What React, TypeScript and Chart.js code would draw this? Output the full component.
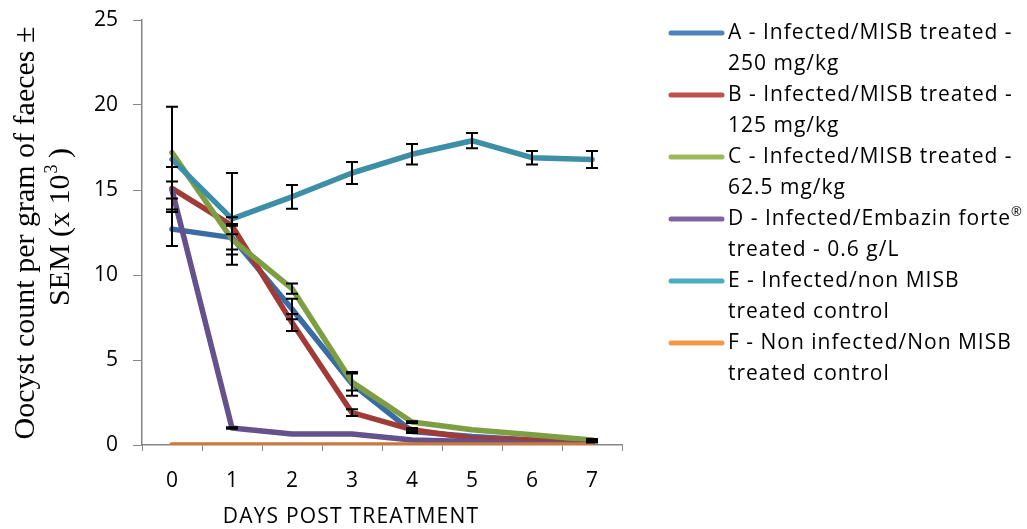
import React, { useEffect, useRef } from "react";
import { Chart, registerables } from "chart.js";

Chart.register(...registerables);

const days = ["0", "1", "2", "3", "4", "5", "6", "7"];

const seriesA = [12.7, 12.2, 8.0, 3.6, 0.8, 0.5, 0.3, 0.2];
const seriesB = [15.1, 12.9, 7.2, 1.9, 0.9, 0.4, 0.3, 0.2];
const seriesC = [17.2, 12.1, 9.2, 3.7, 1.35, 0.9, 0.6, 0.3];
const seriesD = [15.0, 1.0, 0.65, 0.65, 0.3, 0.2, 0.1, 0.05];
const seriesE = [16.8, 13.3, 14.6, 16.0, 17.1, 17.9, 16.9, 16.8];
const seriesF = [0, 0, 0, 0, 0, 0, 0, 0];

const errA = [1.0, 0.7, 0.6, 0.7, 0.1, 0, 0, 0];
const errB = [1.25, 0.5, 0.5, 0.2, 0.1, 0, 0, 0.05];
const errC = [0, 0.9, 0.3, 0.5, 0.05, 0, 0, 0.05];
const errD = [0.5, 0.05, 0, 0, 0, 0, 0, 0];
const errE = [3.1, 2.7, 0.7, 0.65, 0.6, 0.45, 0.4, 0.5];

const legendLabels = [
  ["A - Infected/MISB treated -", "250 mg/kg"],
  ["B - Infected/MISB treated -", "125 mg/kg"],
  ["C - Infected/MISB treated -", "62.5 mg/kg"],
  ["D - Infected/Embazin forte\u00AE", "treated - 0.6 g/L"],
  ["E - Infected/non MISB", "treated control"],
  ["F - Non infected/Non MISB", "treated control"],
];

const yTitle = ["Oocyst count per gram of faeces \u00B1", "SEM (x 10", "3", " )"];
const xTitle = "DAYS POST TREATMENT";

const lineColors = ["#3B6BA5", "#A13B38", "#7D9E43", "#65518B", "#3C8FA6", "#D37631"];
const legendColors = ["#4F81BD", "#C0504D", "#9BBB59", "#8064A2", "#4BACC6", "#F79646"];

const SANS = "'Open Sans', Lato, sans-serif";
const SERIF = "'Liberation Serif', 'DejaVu Serif', serif";

export default function App() {
  const ref = useRef<HTMLCanvasElement | null>(null);

  useEffect(() => {
    if (!ref.current) return;
    const values = [seriesA, seriesB, seriesC, seriesD, seriesE, seriesF];
    const errs = [errA, errB, errC, errD, errE];

    const extras = {
      id: "extras",
      afterDatasetsDraw(chart: any) {
        const ctx = chart.ctx;
        const xs = chart.scales.x;
        const ys = chart.scales.y;
        ctx.save();
        ctx.strokeStyle = "#000000";
        ctx.lineWidth = 2;
        errs.forEach((err, si) => {
          err.forEach((e, i) => {
            if (e <= 0) return;
            const v = values[si][i];
            const x = xs.getPixelForValue(i);
            const yt = ys.getPixelForValue(v + e);
            const yb = ys.getPixelForValue(Math.max(0, v - e));
            ctx.beginPath();
            ctx.moveTo(x, yt);
            ctx.lineTo(x, yb);
            ctx.moveTo(x - 6, yt);
            ctx.lineTo(x + 6, yt);
            ctx.moveTo(x - 6, yb);
            ctx.lineTo(x + 6, yb);
            ctx.stroke();
          });
        });
        ctx.restore();
      },
      afterDraw(chart: any) {
        const ctx = chart.ctx;
        ctx.save();
        // y title
        ctx.fillStyle = "#000000";
        ctx.font = `30px ${SERIF}`;
        ctx.textBaseline = "middle";
        ctx.translate(26, 233);
        ctx.rotate(-Math.PI / 2);
        ctx.textAlign = "center";
        ctx.fillText(yTitle[0], 0, 0);
        const w1 = ctx.measureText(yTitle[1]).width;
        ctx.font = `18px ${SERIF}`;
        const w2 = ctx.measureText(yTitle[2]).width;
        ctx.font = `30px ${SERIF}`;
        const w3 = ctx.measureText(yTitle[3]).width;
        const total = w1 + w2 + w3;
        let sx = -total / 2 + 6;
        ctx.textAlign = "left";
        ctx.fillText(yTitle[1], sx, 35);
        sx += w1;
        ctx.font = `18px ${SERIF}`;
        ctx.fillText(yTitle[2], sx + 1, 26);
        sx += w2;
        ctx.font = `30px ${SERIF}`;
        ctx.fillText(yTitle[3], sx, 35);
        ctx.restore();

        ctx.save();
        ctx.fillStyle = "#000000";
        ctx.font = `21px ${SANS}`;
        (ctx as any).letterSpacing = "1.2px";
        ctx.textAlign = "center";
        ctx.textBaseline = "middle";
        ctx.fillText(xTitle, 351, 517);
        ctx.restore();

        // legend
        ctx.save();
        ctx.textAlign = "left";
        ctx.textBaseline = "middle";
        legendLabels.forEach((lines, i) => {
          const y = 33 + i * 62;
          ctx.strokeStyle = legendColors[i];
          ctx.lineWidth = 5;
          ctx.lineCap = "round";
          ctx.beginPath();
          ctx.moveTo(671, y);
          ctx.lineTo(722, y);
          ctx.stroke();
          ctx.fillStyle = "#000000";
          ctx.font = `21px ${SANS}`;
          (ctx as any).letterSpacing = "1px";
          const first = lines[0];
          if (first.endsWith("\u00AE")) {
            const main = first.slice(0, -1);
            ctx.fillText(main, 728, y);
            const w = ctx.measureText(main).width;
            ctx.font = `13px ${SANS}`;
            ctx.fillText("\u00AE", 728 + w, y - 7);
            ctx.font = `21px ${SANS}`;
          } else {
            ctx.fillText(first, 728, y);
          }
          ctx.fillText(lines[1], 728, y + 31);
        });
        ctx.restore();
      },
    };

    const chart = new Chart(ref.current, {
      type: "line",
      data: {
        labels: days,
        datasets: values.map((vals, i) => ({
          label: legendLabels[i].join(" "),
          data: vals,
          borderColor: lineColors[i],
          backgroundColor: lineColors[i],
          borderWidth: 5.5,
          pointRadius: 0,
          tension: 0,
          borderJoinStyle: "round" as const,
          borderCapStyle: "round" as const,
          order: 5 - i,
        })),
      },
      options: {
        responsive: false,
        animation: false,
        layout: { padding: { left: 0, top: 20, right: 405, bottom: 0 } },
        plugins: { legend: { display: false }, tooltip: { enabled: false } },
        scales: {
          x: {
            type: "category",
            offset: true,
            afterFit(s: any) {
              s.height = 84;
              s.paddingLeft = 0;
              s.paddingRight = 0;
            },
            grid: {
              offset: true,
              drawOnChartArea: false,
              drawTicks: true,
              tickLength: 6,
              color: "#868686",
              lineWidth: 1,
            },
            border: { display: true, color: "#868686", width: 1.5 },
            ticks: {
              color: "#000000",
              font: { family: SANS, size: 21 },
              padding: 17,
              maxRotation: 0,
            },
          },
          y: {
            min: 0,
            max: 25,
            afterFit(s: any) {
              s.width = 142;
              s.paddingTop = 0;
              s.paddingBottom = 0;
            },
            grid: {
              drawOnChartArea: false,
              drawTicks: true,
              tickLength: 9,
              color: "#868686",
              lineWidth: 1,
            },
            border: { display: true, color: "#868686", width: 1.5 },
            ticks: {
              stepSize: 5,
              color: "#000000",
              font: { family: SANS, size: 21 },
              padding: 15,
            },
          },
        },
      },
      plugins: [extras],
    });
    return () => chart.destroy();
  }, []);

  return (
    <div style={{ position: "fixed", left: 0, top: 0, width: 1027, height: 529, background: "#ffffff" }}>
      <canvas ref={ref} width={1027} height={529} style={{ width: 1027, height: 529 }} />
    </div>
  );
}
